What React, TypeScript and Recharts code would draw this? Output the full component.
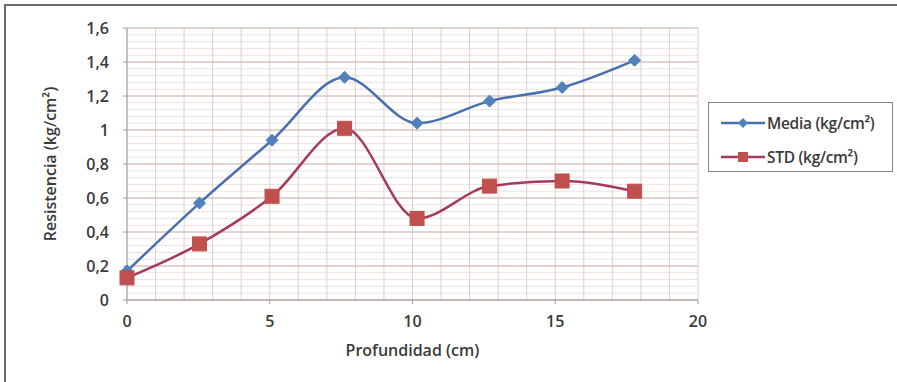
import { CartesianGrid, Line, LineChart, ReferenceLine, XAxis, YAxis } from "recharts"

// depth in cm (1-inch steps)
const depth = [0, 2.54, 5.08, 7.62, 10.16, 12.7, 15.24, 17.78]
const media = [0.17, 0.57, 0.94, 1.31, 1.04, 1.17, 1.25, 1.41]
const std = [0.13, 0.33, 0.61, 1.01, 0.48, 0.67, 0.7, 0.64]

const xTicks = [0, 5, 10, 15, 20]
const yTicks = [0, 0.2, 0.4, 0.6, 0.8, 1, 1.2, 1.4, 1.6]

const minorX = Array.from({ length: 21 }, (_, i) => i)
const minorY = Array.from({ length: 41 }, (_, i) => +(i * 0.04).toFixed(2))

const data = depth.map((d, i) => ({ depth: d, media: media[i], std: std[i] }))

const font = "'Open Sans', 'Liberation Sans', sans-serif"
const BLUE_LINE = "#4a6fb0"
const BLUE_MARK = "#4f81bd"
const RED_LINE = "#a63a5e"
const RED_MARK = "#c0504d"

const fmt = (v: number) => String(v).replace(".", ",")

function Diamond(props: any) {
  const { cx, cy } = props
  if (cx == null || cy == null) return null
  const r = 6
  return (
    <path d={`M${cx},${cy - r}L${cx + r},${cy}L${cx},${cy + r}L${cx - r},${cy}Z`} fill={BLUE_MARK} stroke={BLUE_MARK} />
  )
}

function Square(props: any) {
  const { cx, cy } = props
  if (cx == null || cy == null) return null
  const s = 7
  return <rect x={cx - s} y={cy - s} width={s * 2} height={s * 2} fill={RED_MARK} stroke={RED_MARK} />
}

function LegendBox() {
  const items = [
    { label: "Media (kg/cm²)", line: BLUE_LINE, mark: "diamond" },
    { label: "STD (kg/cm²)", line: RED_LINE, mark: "square" },
  ]
  return (
    <div
      style={{
        position: "absolute",
        left: 708,
        top: 102,
        border: "1.5px solid #8c8080",
        width: 185,
        height: 70,
        boxSizing: "border-box",
        paddingTop: 7,
        paddingLeft: 12,
        fontFamily: font,
        fontSize: 15.5,
        fontWeight: 600,
        color: "#3a3a3a",
        background: "#fff",
        letterSpacing: -0.3,
      }}
    >
      {items.map((it) => (
        <div key={it.label} style={{ display: "flex", alignItems: "center", height: 26, marginBottom: 8 }}>
          <svg width={46} height={14}>
            <line x1={0} y1={7} x2={44} y2={7} stroke={it.line} strokeWidth={2.5} />
            {it.mark === "diamond" ? (
              <path d="M22,2L27,7L22,12L17,7Z" fill={BLUE_MARK} />
            ) : (
              <rect x={17} y={2} width={10} height={10} fill={RED_MARK} />
            )}
          </svg>
          <span>{it.label}</span>
        </div>
      ))}
    </div>
  )
}

const tickStyle = { fill: "#3a3a3a", fontSize: 16, fontWeight: 600, fontFamily: font }

export default function App() {
  return (
    <div style={{ position: "fixed", left: 0, top: 0, width: 897, height: 382, background: "#fff" }}>
      <div
        style={{
          position: "absolute",
          left: 4,
          top: 4,
          width: 900,
          height: 390,
          borderTop: "2px solid #6b6b6b",
          borderLeft: "2px solid #6b6b6b",
        }}
      />
      <div style={{ position: "absolute", left: 0, top: 0 }}>
        <LineChart width={897} height={382} data={data} margin={{ top: 28, right: 199, bottom: 52, left: 62 }}>
          <CartesianGrid stroke="none" />
          {minorY.map((v) => (
            <ReferenceLine key={`hy${v}`} y={v} stroke="#ece2de" strokeWidth={1} />
          ))}
          {minorX.map((v) => (
            <ReferenceLine key={`vx${v}`} x={v} stroke="#dccfcb" strokeWidth={1} />
          ))}
          {yTicks.map((v) => (
            <ReferenceLine key={`my${v}`} y={v} stroke="#cfb5ad" strokeWidth={1.2} />
          ))}
          <XAxis
            type="number"
            dataKey="depth"
            domain={[0, 20]}
            ticks={xTicks}
            height={30}
            stroke="#a09a9a"
            tickSize={4}
            tickMargin={12}
            tick={tickStyle}
            label={{
              value: "Profundidad (cm)",
              position: "insideBottom",
              offset: -26,
              ...tickStyle,
            }}
          />
          <YAxis
            type="number"
            domain={[0, 1.6]}
            ticks={yTicks}
            width={65}
            stroke="#a09a9a"
            tickSize={4}
            tickMargin={14}
            tickFormatter={fmt}
            tick={tickStyle}
            label={{
              value: "Resistencia (kg/cm²)",
              angle: -90,
              position: "insideLeft",
              offset: -12,
              style: { textAnchor: "middle" },
              ...tickStyle,
            }}
          />
          <Line
            type="monotone"
            dataKey="media"
            name="Media (kg/cm²)"
            stroke={BLUE_LINE}
            strokeWidth={2.5}
            dot={<Diamond />}
            isAnimationActive={false}
          />
          <Line
            type="monotone"
            dataKey="std"
            name="STD (kg/cm²)"
            stroke={RED_LINE}
            strokeWidth={2.5}
            dot={<Square />}
            isAnimationActive={false}
          />
        </LineChart>
      </div>
      <LegendBox />
    </div>
  )
}
